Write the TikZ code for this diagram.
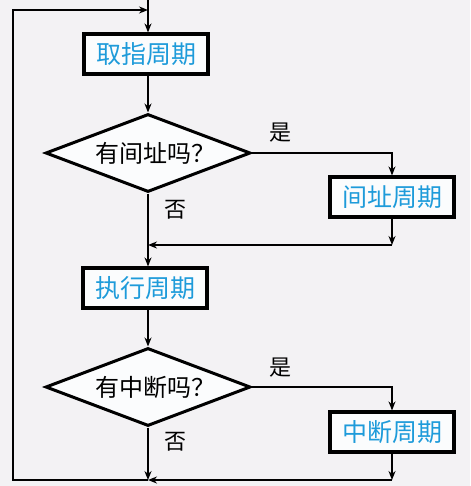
\documentclass[tikz,border=0pt]{standalone}
\usepackage{fontspec}
\setmainfont{Noto Sans CJK SC}
\usetikzlibrary{shapes.geometric,arrows.meta}
\definecolor{bg}{HTML}{F3F2F4}
\definecolor{boxfill}{HTML}{FBFCFD}
\definecolor{bluetxt}{HTML}{1E9BDA}
\begin{document}
\begin{tikzpicture}[x=1pt,y=-1pt,
  cyclebox/.style={draw=black,line width=3.1pt,fill=boxfill,minimum width=124pt,minimum height=40pt,inner sep=0pt,text=bluetxt,font=\fontsize{25}{25}\selectfont},
  decide/.style={diamond,draw=black,line width=3pt,fill=boxfill,minimum width=205pt,minimum height=78pt,aspect=2.63,inner sep=0pt,font=\fontsize{24}{24}\selectfont},
  flow/.style={line width=2.8pt,-{Stealth[length=9pt,width=7pt]}},
  lab/.style={font=\fontsize{22}{22}\selectfont}]
\fill[bg] (0,0) rectangle (470,486);
\useasboundingbox (0,0) rectangle (470,486);
\coordinate (top) at (148,0);
\node[cyclebox] (fetch) at (146,54) {取指周期};
\node[decide] (d1) at (148,153) {\hspace{14pt}有间址吗？};
\node[cyclebox] (ind) at (392,197) {间址周期};
\node[cyclebox] (exec) at (145,288) {执行周期};
\node[decide] (d2) at (148,387) {\hspace{14pt}有中断吗？};
\node[cyclebox] (intr) at (392,432) {中断周期};
\coordinate (m1) at (148,245);
\coordinate (c1) at (392,245);
\coordinate (m2) at (148,480);
\coordinate (c2) at (392,480);
\coordinate (bl) at (13,480);
\coordinate (tl) at (13,10);
\coordinate (tm) at (148,10);
\node[lab] (yes1) at (280,133) {是};
\node[lab] (no1) at (175,210) {否};
\node[lab] (yes2) at (280,368) {是};
\node[lab] (no2) at (175,442) {否};
\draw[flow] (top) -- (top |- fetch.north);
\draw[flow] (top |- fetch.south) -- (d1.north);
\draw[flow] (d1.east) -| (ind.north);
\draw[flow] (ind.south) -- (c1);
\draw[flow] (c1) -- (m1);
\draw[flow] (d1.south) -- (top |- exec.north);
\draw[flow] (top |- exec.south) -- (d2.north);
\draw[flow] (d2.east) -| (intr.north);
\draw[flow] (intr.south) -- (c2);
\draw[flow] (c2) -- (m2);
\draw[flow] (d2.south) -- (m2);
\draw[flow] (m2) -- (bl) -- (tl) -- (tm);
\end{tikzpicture}
\end{document}
